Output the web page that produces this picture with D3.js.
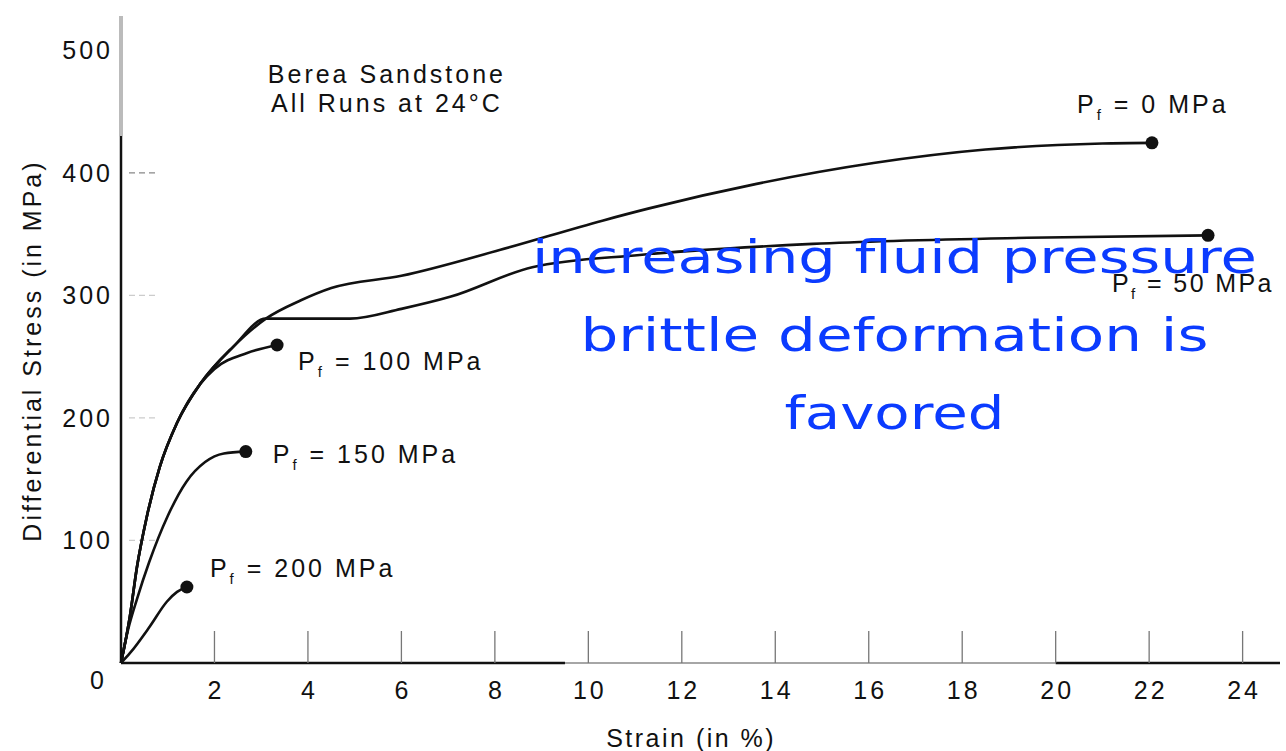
<!DOCTYPE html>
<html>
<head>
<meta charset="utf-8">
<script src="https://cdn.jsdelivr.net/npm/d3@7"></script>
<style>
  html, body { margin: 0; padding: 0; background: #fff; }
  svg { display: block; }
  text { font-family: "Liberation Sans", Arial, sans-serif; fill: #111; }
</style>
</head>
<body>
<div id="chart"></div>
<script>

// chart values
const strainTicks = [2, 4, 6, 8, 10, 12, 14, 16, 18, 20, 22, 24];
const stressTicks = [100, 200, 300, 400, 500];
const fluidPressures = [0, 50, 100, 150, 200];

// [strain %, differential stress MPa]
const runP0 = [[0,0],[0.19,38],[0.34,78],[0.55,119],[0.83,160],[1.2,196],[1.7,228],[2.4,258],[3.1,281],[3.85,296],[4.5,306],[6,316],[8.1,337],[10.3,361],[11.3,371],[13.6,391],[16.1,408],[18.5,419],[21,424],[22.06,424.5]];
const runP50 = [[0,0],[0.19,38],[0.34,78],[0.55,119],[0.83,160],[1.2,196],[1.7,228],[2.4,258],[3.1,281],[4.9,281],[6,289],[7.06,299],[8.8,323],[11.1,333],[14.8,342],[19.4,347],[23.26,349]];
const runP100 = [[0,0],[0.19,38],[0.34,78],[0.55,119],[0.83,160],[1.2,196],[1.7,228],[2.0,240],[2.7,253],[3.34,259.5]];
const runP150 = [[0,0],[0.15,27],[0.34,52],[0.6,82],[1.0,120],[1.4,148],[1.8,164],[2.2,171],[2.67,172.5]];
const runP200 = [[0,0],[0.19,8],[0.62,30],[0.98,50],[1.2,58],[1.41,62]];

const titleLines = ["Berea Sandstone", "All Runs at 24°C"];
const noteLines = ["increasing fluid pressure", "brittle deformation is", "favored"];

const runs = [runP0, runP50, runP100, runP150, runP200];
// label offsets from each run's end point (pixels)
const labelOffsets = [[-75, -30], [-96, 57], [21, 25], [27, 11], [23, -10]];

const width = 1286, height = 751;

const x = d3.scaleLinear().domain([0, 24.8]).range([121, 1280]);
const y = d3.scaleLinear().domain([0, 528]).range([663, 16]);

const svg = d3.select("#chart")
	.append("svg")
		.attr("width", width)
		.attr("height", height);

// y axis: faded at the top like the scan
svg.append("line")
	.attr("x1", x(0)).attr("x2", x(0))
	.attr("y1", y(528)).attr("y2", y(430))
	.attr("stroke", "#bbb")
	.attr("stroke-width", 4);
svg.append("line")
	.attr("x1", x(0)).attr("x2", x(0))
	.attr("y1", y(430)).attr("y2", y(0))
	.attr("stroke", "#111")
	.attr("stroke-width", 2.5);

// x axis
svg.append("line")
	.attr("x1", x(0)).attr("x2", x(9.5))
	.attr("y1", y(0)).attr("y2", y(0))
	.attr("stroke", "#111")
	.attr("stroke-width", 2.5);
svg.append("line")
	.attr("x1", x(9.5)).attr("x2", x(20))
	.attr("y1", y(0)).attr("y2", y(0))
	.attr("stroke", "#888")
	.attr("stroke-width", 1.5);
svg.append("line")
	.attr("x1", x(20)).attr("x2", x(24.8))
	.attr("y1", y(0)).attr("y2", y(0))
	.attr("stroke", "#111")
	.attr("stroke-width", 2.5);

// x ticks go up inside the plot
svg.selectAll(".xtick")
	.data(strainTicks)
	.enter()
		.append("line")
		.attr("class", "xtick")
		.attr("x1", d => x(d)).attr("x2", d => x(d))
		.attr("y1", y(0)).attr("y2", y(0) - 32)
		.attr("stroke", "#777")
		.attr("stroke-width", 1.3);

svg.selectAll(".xlabel")
	.data(strainTicks)
	.enter()
		.append("text")
		.attr("class", "xlabel")
		.attr("x", d => x(d) + 1.5)
		.attr("y", y(0) + 36)
		.attr("text-anchor", "middle")
		.style("font-size", "25px")
		.style("letter-spacing", "3px")
		.text(d => d);

svg.append("text")
	.attr("x", x(0) - 24)
	.attr("y", y(0) + 26)
	.attr("text-anchor", "middle")
	.style("font-size", "25px")
	.text("0");

// small faint y ticks
svg.selectAll(".ytick")
	.data(stressTicks.filter(d => d < 500))
	.enter()
		.append("line")
		.attr("class", "ytick")
		.attr("x1", x(0) + 8).attr("x2", x(0) + 36)
		.attr("y1", d => y(d)).attr("y2", d => y(d))
		.attr("stroke", d => d == 400 ? "#888" : "#ccc")
		.attr("stroke-width", 1.3)
		.attr("stroke-dasharray", "6,4");

svg.selectAll(".ylabel")
	.data(stressTicks)
	.enter()
		.append("text")
		.attr("class", "ylabel")
		.attr("x", x(0) - 8)
		.attr("y", d => y(d) + 9)
		.attr("text-anchor", "end")
		.style("font-size", "25px")
		.style("letter-spacing", "3px")
		.text(d => d);

// axis titles
svg.append("text")
	.attr("transform", "translate(41," + y(255) + ") rotate(-90)")
	.attr("text-anchor", "middle")
	.style("font-size", "25px")
	.style("letter-spacing", "3px")
	.text("Differential Stress (in MPa)");

svg.append("text")
	.attr("x", x(12.2))
	.attr("y", 747)
	.attr("text-anchor", "middle")
	.style("font-size", "25px")
	.style("letter-spacing", "2.5px")
	.text("Strain (in %)");

// title block
svg.selectAll(".title")
	.data(titleLines)
	.enter()
		.append("text")
		.attr("class", "title")
		.attr("x", x(5.69))
		.attr("y", (d, i) => y(473) + i * 29)
		.attr("text-anchor", "middle")
		.style("font-size", "25px")
		.style("letter-spacing", "3px")
		.text(d => d);

// stress-strain curves
let line = d3.line()
	.x(d => x(d[0]))
	.y(d => y(d[1]))
	.curve(d3.curveMonotoneX);

svg.append("g")
	.selectAll("path")
	.data(runs)
	.enter()
		.append("path")
		.attr("d", d => line(d))
		.attr("fill", "none")
		.attr("stroke", "#111")
		.attr("stroke-width", 2.6);

svg.append("g")
	.selectAll("circle")
	.data(runs)
	.enter()
		.append("circle")
		.attr("cx", d => x(d[d.length - 1][0]))
		.attr("cy", d => y(d[d.length - 1][1]))
		.attr("r", 6.5)
		.attr("fill", "#111");

// P_f labels
let labels = svg.append("g")
	.selectAll("text")
	.data(runs)
	.enter()
		.append("text")
		.attr("x", (d, i) => x(d[d.length - 1][0]) + labelOffsets[i][0])
		.attr("y", (d, i) => y(d[d.length - 1][1]) + labelOffsets[i][1])
		.style("font-size", "25px")
		.style("letter-spacing", (d, i) => i == 1 ? "2.4px" : "3px");

labels.append("tspan").text("P");
labels.append("tspan")
	.attr("dy", 7)
	.style("font-size", "15px")
	.text("f");
labels.append("tspan")
	.attr("dy", -7)
	.text((d, i) => " = " + fluidPressures[i] + " MPa");

// handwritten note on top
let noteWidths = [725, 628, 220];
svg.append("g")
	.selectAll("text")
	.data(noteLines)
	.enter()
		.append("text")
		.attr("x", x(16.55))
		.attr("y", (d, i) => y(318) + i * 78)
		.attr("text-anchor", "middle")
		.attr("textLength", (d, i) => noteWidths[i])
		.attr("lengthAdjust", "spacingAndGlyphs")
		.style("font-family", "'DejaVu Sans', sans-serif")
		.style("font-size", "46px")
		.style("fill", "#0b3bff")
		.text(d => d);

</script>
</body>
</html>
